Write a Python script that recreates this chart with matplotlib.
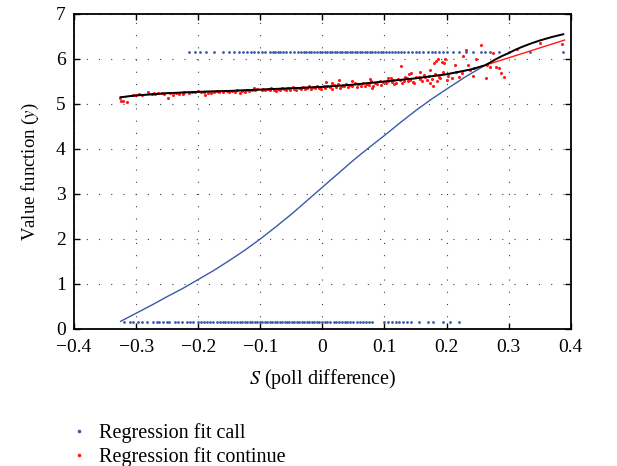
import numpy as np
import matplotlib.pyplot as plt
from matplotlib.lines import Line2D

plt.rcParams['font.family'] = ['Liberation Serif', 'DejaVu Serif']
plt.rcParams['mathtext.fontset'] = 'stix'

# regression curves
blue_x = [-0.325, -0.3, -0.275, -0.25, -0.225, -0.2, -0.175, -0.15, -0.125, -0.1, -0.075, -0.05,
          -0.025, 0.0, 0.025, 0.05, 0.075, 0.1, 0.125, 0.15, 0.175, 0.2, 0.23, 0.262]
blue_y = [0.17, 0.35, 0.53, 0.72, 0.9, 1.1, 1.3, 1.52, 1.75, 2.0, 2.27, 2.55,
          2.85, 3.15, 3.45, 3.75, 4.03, 4.3, 4.58, 4.85, 5.1, 5.33, 5.6, 5.86]

black_x = [-0.325, -0.3, -0.25, -0.2, -0.15, -0.1, -0.05, 0.0, 0.05, 0.1, 0.15, 0.2, 0.24, 0.262,
           0.27, 0.28, 0.29, 0.3, 0.31, 0.32, 0.335, 0.35, 0.37, 0.388]
black_y = [5.15, 5.19, 5.24, 5.27, 5.29, 5.32, 5.35, 5.38, 5.43, 5.50, 5.57, 5.66, 5.77, 5.86,
           5.92, 6.0, 6.07, 6.13, 6.2, 6.26, 6.34, 6.41, 6.49, 6.55]

red_x = [-0.325, -0.3, -0.25, -0.2, -0.15, -0.1, -0.05, 0.0, 0.05, 0.1, 0.15, 0.2, 0.24, 0.262, 0.39]
red_y = [5.15, 5.19, 5.24, 5.27, 5.29, 5.32, 5.35, 5.38, 5.43, 5.50, 5.57, 5.66, 5.77, 5.86, 6.42]

# "call" points (top row y=6.15, bottom row y=0.16)
call_top_x = [-0.215, -0.205, -0.197, -0.188, -0.175, -0.160, -0.150, -0.143, -0.135, -0.128,
              -0.122, -0.115, -0.110, -0.104, -0.098, -0.093, -0.085, -0.080, -0.076, -0.072,
              -0.068, -0.063, -0.058, -0.052, -0.045, -0.040, -0.035, -0.030, -0.026, -0.022,
              -0.018, -0.013, -0.008, -0.004, 0.000, 0.004, 0.008, 0.012, 0.016, 0.020, 0.024,
              0.028, 0.032, 0.036, 0.040, 0.044, 0.048, 0.052, 0.056, 0.060, 0.064, 0.068, 0.072,
              0.076, 0.080, 0.085, 0.090, 0.094, 0.098, 0.103, 0.108, 0.112, 0.117, 0.122, 0.127,
              0.132, 0.138, 0.145, 0.150, 0.156, 0.162, 0.170, 0.176, 0.182, 0.188, 0.195, 0.200,
              0.210, 0.220, 0.232, 0.242, 0.255, 0.262, 0.270, 0.285, 0.300, 0.335, 0.388]
call_bot_x = [-0.320, -0.310, -0.305, -0.297, -0.291, -0.283, -0.273, -0.266, -0.263, -0.257,
              -0.250, -0.247, -0.237, -0.233, -0.226, -0.218, -0.213, -0.208, -0.200, -0.196,
              -0.191, -0.186, -0.181, -0.176, -0.170, -0.165, -0.160, -0.157, -0.152, -0.147,
              -0.142, -0.138, -0.133, -0.129, -0.125, -0.121, -0.117, -0.113, -0.109, -0.105,
              -0.101, -0.097, -0.093, -0.089, -0.085, -0.081, -0.077, -0.073, -0.069, -0.065,
              -0.061, -0.057, -0.053, -0.049, -0.045, -0.041, -0.037, -0.033, -0.029, -0.025,
              -0.021, -0.017, -0.013, -0.009, -0.005, -0.001, 0.004, 0.008, 0.013, 0.018, 0.022,
              0.027, 0.031, 0.036, 0.040, 0.045, 0.050, 0.055, 0.060, 0.065, 0.070, 0.075, 0.080,
              0.100, 0.106, 0.112, 0.118, 0.124, 0.130, 0.136, 0.142, 0.155, 0.170, 0.178, 0.195,
              0.205, 0.220]

# "continue" points
cont_x = [-0.326, -0.324, -0.321, -0.314, -0.305, -0.300, -0.295, -0.290, -0.281, -0.275, -0.272,
          -0.269, -0.265, -0.259, -0.255, -0.248, -0.245, -0.241, -0.235, -0.231, -0.225, -0.223,
          -0.215, -0.210, -0.205, -0.200, -0.195, -0.190, -0.189, -0.185, -0.179, -0.175, -0.170,
          -0.167, -0.160, -0.154, -0.150, -0.145, -0.141, -0.138, -0.133, -0.130, -0.125, -0.123,
          -0.118, -0.113, -0.110, -0.108, -0.105,
          -0.098, -0.095, -0.092, -0.088, -0.085, -0.082, -0.078, -0.075, -0.072, -0.068, -0.065,
          -0.062, -0.058, -0.055, -0.052, -0.048, -0.045, -0.042, -0.038, -0.035, -0.032, -0.028,
          -0.025, -0.022, -0.018, -0.015, -0.012, -0.008, -0.005, -0.002, 0.002, 0.005, 0.006,
          0.008, 0.012, 0.015, 0.016, 0.018, 0.022, 0.025, 0.027, 0.028, 0.032, 0.035, 0.038,
          0.042, 0.045, 0.047, 0.048, 0.052, 0.055, 0.058, 0.062, 0.065, 0.068, 0.072, 0.075,
          0.077, 0.078, 0.080, 0.082, 0.085, 0.088, 0.092, 0.095, 0.098,
          0.102, 0.105, 0.106, 0.110, 0.112, 0.113, 0.115, 0.118, 0.121, 0.125, 0.127, 0.128,
          0.131, 0.133, 0.136, 0.138, 0.140, 0.141, 0.143, 0.146, 0.148, 0.151, 0.155, 0.158,
          0.158, 0.161, 0.163, 0.166, 0.168, 0.171, 0.173, 0.174, 0.176, 0.178, 0.180, 0.181,
          0.183, 0.185, 0.186, 0.188, 0.190, 0.193, 0.195, 0.196, 0.198, 0.200, 0.203, 0.208,
          0.213, 0.215, 0.220, 0.225, 0.227, 0.232, 0.235, 0.238, 0.243, 0.245, 0.248, 0.256,
          0.263, 0.265, 0.270, 0.275, 0.280, 0.285, 0.288, 0.293, 0.313, 0.350, 0.386]
cont_y = [5.13, 5.07, 5.07, 5.05, 5.19, 5.20, 5.22, 5.21, 5.27, 5.22, 5.24,
          5.22, 5.25, 5.24, 5.23, 5.13, 5.25, 5.21, 5.24, 5.22, 5.23, 5.26,
          5.25, 5.27, 5.26, 5.28, 5.26, 5.27, 5.21, 5.25, 5.24, 5.27, 5.29,
          5.26, 5.27, 5.28, 5.26, 5.29, 5.26, 5.30, 5.24, 5.28, 5.27, 5.30,
          5.29, 5.31, 5.35, 5.30, 5.33,
          5.30, 5.34, 5.31, 5.33, 5.30, 5.35, 5.32, 5.29, 5.34, 5.31, 5.36,
          5.33, 5.30, 5.35, 5.32, 5.37, 5.33, 5.31, 5.36, 5.34, 5.38, 5.33,
          5.36, 5.39, 5.34, 5.37, 5.35, 5.40, 5.36, 5.33, 5.39, 5.36, 5.48,
          5.41, 5.37, 5.34, 5.47, 5.42, 5.38, 5.44, 5.53, 5.36, 5.41, 5.39, 5.45,
          5.38, 5.43, 5.50, 5.40, 5.46, 5.37, 5.44, 5.41, 5.47, 5.39, 5.45, 5.42,
          5.56, 5.50, 5.36, 5.40, 5.47, 5.44, 5.52, 5.43, 5.49,
          5.46, 5.58, 5.52, 5.57, 5.49, 5.54, 5.44, 5.46, 5.55, 5.53, 5.84, 5.47,
          5.52, 5.61, 5.58, 5.50, 5.67, 5.54, 5.68, 5.49, 5.46, 5.60, 5.61, 5.72,
          5.55, 5.51, 5.64, 5.59, 5.53, 5.62, 5.46, 5.76, 5.56, 5.39, 5.92, 5.66,
          5.96, 5.50, 6.00, 5.60, 5.57, 5.94, 5.70, 5.92, 6.01, 5.53, 5.63, 5.57,
          5.87, 5.72, 5.61, 5.68, 6.07, 6.21, 5.87, 5.75, 5.63, 5.80, 6.01, 6.30,
          5.57, 5.86, 5.82, 6.13, 5.83, 5.79, 5.68, 5.61, 6.22, 6.35, 6.33]

blue = '#3a5aa8'
red = '#ff1a1a'

fig = plt.figure(figsize=(6.17, 4.66), dpi=100)
ax = fig.add_axes([0.12, 0.294, 0.805, 0.676])

ax.scatter(call_top_x, [6.15] * len(call_top_x), s=4, color=blue, linewidths=0, zorder=3)
ax.scatter(call_bot_x, [0.16] * len(call_bot_x), s=4, color=blue, linewidths=0, zorder=3)
ax.scatter(cont_x, cont_y, s=5, color=red, linewidths=0, zorder=3)

ax.plot(blue_x, blue_y, color=blue, lw=1.0, zorder=4)
ax.plot(red_x, red_y, color=red, lw=1.0, zorder=4)
ax.plot(black_x, black_y, color='black', lw=1.4, zorder=5)

ax.set_xlim(-0.4, 0.4)
ax.set_ylim(0, 7)
ax.set_xticks(np.arange(-0.4, 0.41, 0.1))
ax.set_xticklabels(['\u22120.4', '\u22120.3', '\u22120.2', '\u22120.1', '0', '0.1', '0.2', '0.3', '0.4'])
ax.set_yticks(range(0, 8))
ax.tick_params(direction='in', top=True, right=True, length=4, width=1, labelsize=14)
ax.tick_params(axis='x', pad=7)
ax.tick_params(axis='y', pad=6)
for s in ax.spines.values():
    s.set_linewidth(1.3)
ax.grid(True, color='0.25', linestyle=(0, (1, 10)), linewidth=0.8)

ax.set_xlabel(r'$S$ (poll difference)', fontsize=14.5, labelpad=8)
ax.set_ylabel(r'Value function ($y$)', fontsize=13.5, labelpad=11)

handles = [Line2D([], [], marker='o', ls='', ms=2.6, color=blue, mec='none'),
           Line2D([], [], marker='o', ls='', ms=2.6, color=red, mec='none')]
fig.legend(handles, ['Regression fit call', 'Regression fit continue'], loc='upper left',
           bbox_to_anchor=(0.115, 0.092), frameon=False, fontsize=14.5, handlelength=0.8,
           handletextpad=0.6, labelspacing=0.2, borderpad=0, borderaxespad=0)

fig.savefig('out.png', dpi=100)
